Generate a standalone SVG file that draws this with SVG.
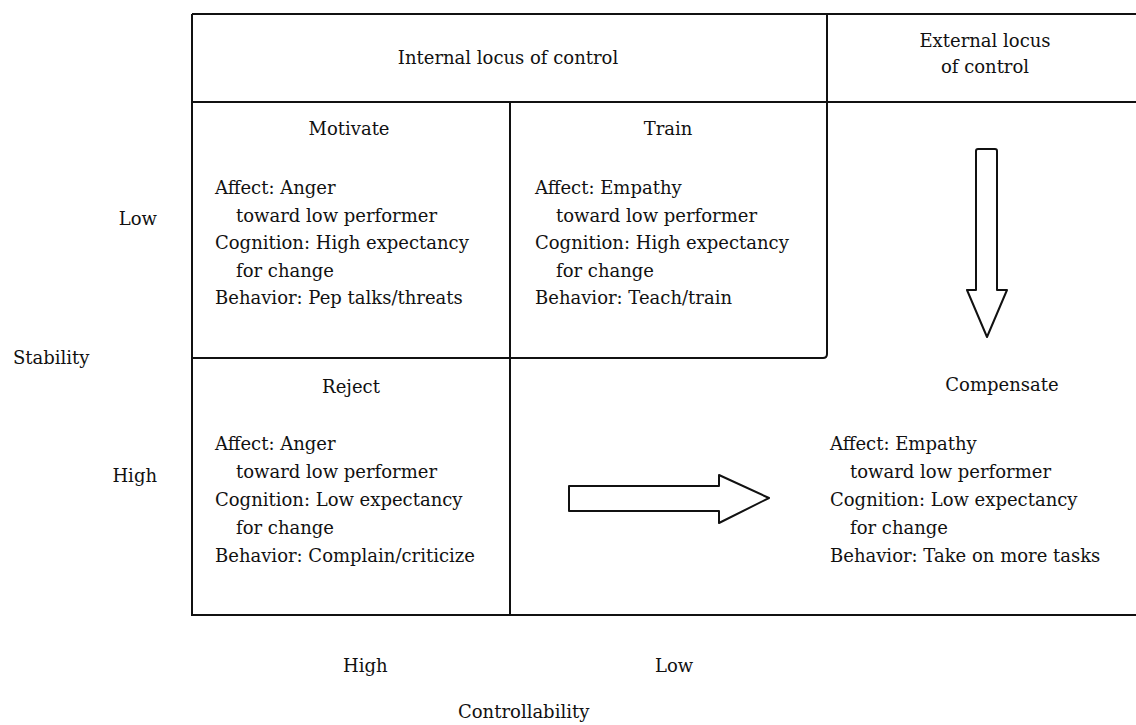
<svg xmlns="http://www.w3.org/2000/svg" width="1136" height="725" viewBox="0 0 1136 725">
<style>
text{font-family:"DejaVu Serif","Liberation Serif",serif;font-size:18px;fill:#111}
.c{text-anchor:middle}
.e{text-anchor:end}
.ln{fill:none;stroke:#111;stroke-width:2}
.ar{fill:#fff;stroke:#111;stroke-width:2;stroke-linejoin:round}
</style>
<rect width="1136" height="725" fill="#fff"/>
<g id="frame">
<path class="ln" d="M192,14 H1136 M192,102 H1136 M192,14 V615 H1136 M510,102 V615 M827,14 V354 Q827,358 823,358 H192"/>
</g>
<g id="header-internal"><text class="c" x="508" y="64">Internal locus of control</text></g>
<g id="header-external"><text class="c" x="985" y="47">External locus</text><text class="c" x="985" y="73">of control</text></g>
<g id="axis-stability">
<text class="e" x="157" y="225">Low</text>
<text x="13" y="364">Stability</text>
<text class="e" x="157" y="482">High</text>
</g>
<g id="axis-controllability">
<text x="343" y="672">High</text>
<text x="655" y="672">Low</text>
<text x="458" y="718">Controllability</text>
</g>
<g id="motivate">
<text class="c" x="349" y="135">Motivate</text>
<text x="215" y="194">Affect: Anger</text>
<text x="236" y="222">toward low performer</text>
<text x="215" y="249">Cognition: High expectancy</text>
<text x="236" y="277">for change</text>
<text x="215" y="304">Behavior: Pep talks/threats</text>
</g>
<g id="train">
<text class="c" x="668" y="135">Train</text>
<text x="535" y="194">Affect: Empathy</text>
<text x="556" y="222">toward low performer</text>
<text x="535" y="249">Cognition: High expectancy</text>
<text x="556" y="277">for change</text>
<text x="535" y="304">Behavior: Teach/train</text>
</g>
<g id="reject">
<text class="c" x="351" y="393">Reject</text>
<text x="215" y="450">Affect: Anger</text>
<text x="236" y="478">toward low performer</text>
<text x="215" y="506">Cognition: Low expectancy</text>
<text x="236" y="534">for change</text>
<text x="215" y="562">Behavior: Complain/criticize</text>
</g>
<g id="compensate">
<text class="c" x="1002" y="391">Compensate</text>
<text x="830" y="450">Affect: Empathy</text>
<text x="850" y="478">toward low performer</text>
<text x="830" y="506">Cognition: Low expectancy</text>
<text x="850" y="534">for change</text>
<text x="830" y="562">Behavior: Take on more tasks</text>
</g>
<g id="connectors">
<path class="ar" d="M976,151 Q976,149 978,149 H995 Q997,149 997,151 V290 H1007 L987,337 L967,290 H976 Z"/>
<path class="ar" d="M569,486 H719 V475 L769,498 L719,523 V511 H569 Z"/>
</g>
</svg>
